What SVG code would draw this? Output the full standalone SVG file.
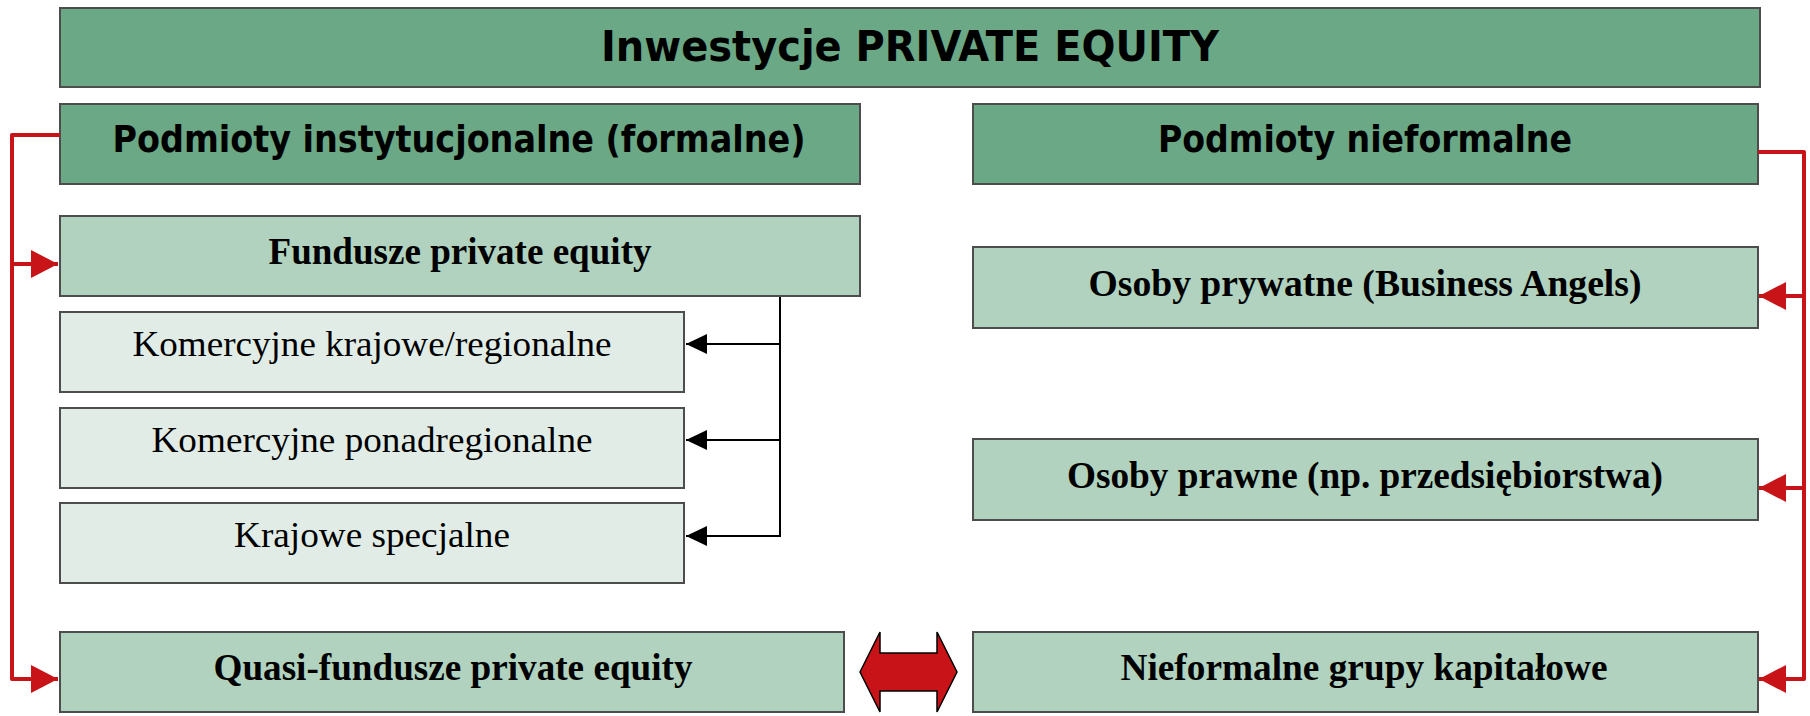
<svg xmlns="http://www.w3.org/2000/svg" width="1810" height="716" viewBox="0 0 1810 716">
<style>
.box{stroke:#4d4d4d;stroke-width:2}
.dark{fill:#6aa886}
.mid{fill:#b0d2bf}
.light{fill:#e1ece6}
.sans{font-family:'DejaVu Sans Condensed','DejaVu Sans',sans-serif;font-weight:bold;fill:#000;text-anchor:middle}
.serb{font-family:'Liberation Serif','Times New Roman',serif;font-weight:bold;font-size:37px;fill:#000;text-anchor:middle}
.ser{font-family:'Liberation Serif','Times New Roman',serif;font-size:36.5px;fill:#000;text-anchor:middle}
.red{fill:none;stroke:#c81418;stroke-width:4;stroke-linejoin:round}
.blk{fill:none;stroke:#000;stroke-width:2}
</style>
<defs>
<marker id="ra" markerWidth="27" markerHeight="28" refX="27" refY="14" orient="auto" markerUnits="userSpaceOnUse">
<path d="M0,0 L27,14 L0,28 Z" fill="#c81418"/>
</marker>
<marker id="ba" markerWidth="21" markerHeight="20" refX="21" refY="10" orient="auto" markerUnits="userSpaceOnUse">
<path d="M0,0 L21,10 L0,20 Z" fill="#000"/>
</marker>
</defs>

<g id="title">
<rect class="box dark" x="60" y="8" width="1700" height="79"/>
<text class="sans" x="910" y="61" font-size="43" textLength="618" lengthAdjust="spacingAndGlyphs">Inwestycje PRIVATE EQUITY</text>
</g>
<g id="pinst">
<rect class="box dark" x="60" y="104" width="800" height="80"/>
<text class="sans" x="459" y="152" font-size="37.5" textLength="693" lengthAdjust="spacingAndGlyphs">Podmioty instytucjonalne (formalne)</text>
</g>
<g id="pnief">
<rect class="box dark" x="973" y="104" width="785" height="80"/>
<text class="sans" x="1365" y="152" font-size="37.5" textLength="414" lengthAdjust="spacingAndGlyphs">Podmioty nieformalne</text>
</g>
<g id="fund">
<rect class="box mid" x="60" y="216" width="800" height="80"/>
<text class="serb" x="460" y="264" textLength="383" lengthAdjust="spacingAndGlyphs">Fundusze private equity</text>
</g>
<g id="kom1">
<rect class="box light" x="60" y="312" width="624" height="80"/>
<text class="ser" x="372" y="356" textLength="479" lengthAdjust="spacingAndGlyphs">Komercyjne krajowe/regionalne</text>
</g>
<g id="kom2">
<rect class="box light" x="60" y="408" width="624" height="80"/>
<text class="ser" x="372" y="452" textLength="441" lengthAdjust="spacingAndGlyphs">Komercyjne ponadregionalne</text>
</g>
<g id="kraj">
<rect class="box light" x="60" y="503" width="624" height="80"/>
<text class="ser" x="372" y="547" textLength="276" lengthAdjust="spacingAndGlyphs">Krajowe specjalne</text>
</g>
<g id="quasi">
<rect class="box mid" x="60" y="632" width="784" height="80"/>
<text class="serb" x="453" y="680" textLength="479" lengthAdjust="spacingAndGlyphs">Quasi-fundusze private equity</text>
</g>
<g id="osp">
<rect class="box mid" x="973" y="247" width="785" height="81"/>
<text class="serb" x="1365" y="296" textLength="553" lengthAdjust="spacingAndGlyphs">Osoby prywatne (Business Angels)</text>
</g>
<g id="ospr">
<rect class="box mid" x="973" y="439" width="785" height="81"/>
<text class="serb" x="1365" y="488" textLength="596" lengthAdjust="spacingAndGlyphs">Osoby prawne (np. przedsiębiorstwa)</text>
</g>
<g id="nief">
<rect class="box mid" x="973" y="632" width="785" height="80"/>
<text class="serb" x="1364" y="680" textLength="487" lengthAdjust="spacingAndGlyphs">Nieformalne grupy kapitałowe</text>
</g>
<g id="dblarrow">
<polygon points="860,672 880,632 880,653 937,653 937,632 957,672 937,712 937,691 880,691 880,712" fill="#c81418" stroke="#000" stroke-width="1.5" stroke-linejoin="miter"/>
</g>

<g id="connectors">
<path class="red" d="M60,135 H12 V679 H58" marker-end="url(#ra)"/>
<path class="red" d="M12,264 H58" marker-end="url(#ra)"/>
<path class="red" d="M1758,152 H1804 V679 H1759" marker-end="url(#ra)"/>
<path class="red" d="M1804,296 H1759" marker-end="url(#ra)"/>
<path class="red" d="M1804,488 H1759" marker-end="url(#ra)"/>
<path class="blk" d="M780,297 V536 H686" marker-end="url(#ba)"/>
<path class="blk" d="M780,344 H686" marker-end="url(#ba)"/>
<path class="blk" d="M780,440 H686" marker-end="url(#ba)"/>
</g>
</svg>
